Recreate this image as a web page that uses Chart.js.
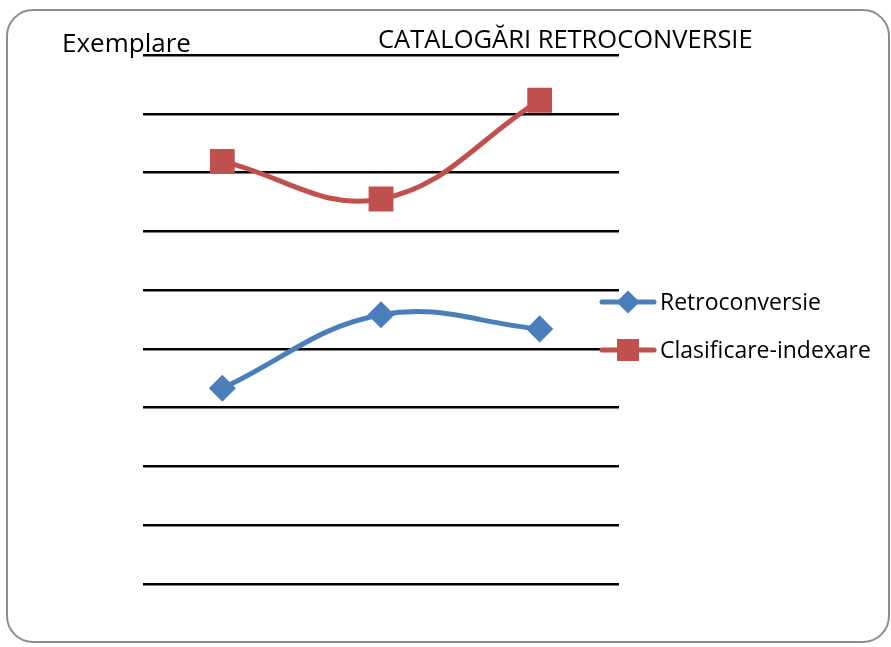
<!DOCTYPE html>
<html>
<head>
<meta charset="utf-8">
<script src="https://cdn.jsdelivr.net/npm/chart.js@4"></script>
<style>
  body { margin: 0; background: #fff; }
  #wrap { width: 891px; height: 647px; position: relative; }
</style>
</head>
<body>
<div id="wrap"><canvas id="chart"></canvas></div>
<script>
const categories = ["I", "II", "III"];
const retroconversie = [3.33, 4.58, 4.34];
const clasificare = [7.19, 6.55, 8.23];
const seriesNames = ["Retroconversie", "Clasificare-indexare"];
const chartTitle = "CATALOGĂRI RETROCONVERSIE";
const axisTitle = "Exemplare";

const FONT = "'Open Sans', sans-serif";

// frame, titles and the line+marker legend
const decor = {
  id: "decor",
  beforeDraw(chart) {
    const ctx = chart.ctx;
    ctx.save();
    ctx.strokeStyle = "#8c8c8c";
    ctx.lineWidth = 2;
    ctx.beginPath();
    ctx.roundRect(7, 10, 882, 632, 26);
    ctx.stroke();
    ctx.restore();
  },
  afterDraw(chart) {
    const ctx = chart.ctx;
    ctx.save();
    ctx.fillStyle = "#000";
    ctx.textBaseline = "alphabetic";
    ctx.textAlign = "left";
    ctx.font = "26px " + FONT;
    ctx.fillText(axisTitle, 62, 52);
    ctx.font = "25.5px " + FONT;
    ctx.fillText(chartTitle, 378, 48);

    const rows = [302, 350];
    chart.data.datasets.forEach(function (ds, i) {
      const y = rows[i];
      ctx.strokeStyle = ds.borderColor;
      ctx.lineWidth = 5;
      ctx.lineCap = "round";
      ctx.beginPath();
      ctx.moveTo(602, y);
      ctx.lineTo(654, y);
      ctx.stroke();
      ctx.fillStyle = ds.pointBackgroundColor;
      ctx.strokeStyle = ds.pointBorderColor;
      Chart.helpers.drawPoint(ctx, {
        pointStyle: ds.pointStyle,
        radius: ds.pointStyle === "rect" ? 12 : 8,
        rotation: 0,
        borderWidth: 1
      }, 628, y);
      ctx.fillStyle = "#000";
      ctx.font = "23px " + FONT;
      ctx.textBaseline = "middle";
      ctx.fillText(ds.label, 660, y + 1);
    });
    ctx.restore();
  }
};

new Chart(document.getElementById("chart"), {
  type: "line",
  data: {
    labels: categories,
    datasets: [
      {
        label: seriesNames[0],
        data: retroconversie,
        borderColor: "#4a7ebb",
        backgroundColor: "#4a7ebb",
        pointBackgroundColor: "#4a7ebb",
        pointBorderColor: "#4a7ebb",
        pointStyle: "rectRot",
        pointRadius: 10,
        borderWidth: 5,
        tension: 0.4
      },
      {
        label: seriesNames[1],
        data: clasificare,
        borderColor: "#c0504d",
        backgroundColor: "#c0504d",
        pointBackgroundColor: "#c0504d",
        pointBorderColor: "#c0504d",
        pointStyle: "rect",
        pointRadius: 14,
        borderWidth: 5,
        tension: 0.4
      }
    ]
  },
  options: {
    responsive: true,
    maintainAspectRatio: false,
    animation: false,
    layout: {
      padding: { left: 143, right: 272, top: 55, bottom: 63 }
    },
    plugins: {
      legend: { display: false },
      tooltip: { enabled: false }
    },
    scales: {
      x: {
        offset: true,
        grid: { display: false, drawTicks: false },
        border: { display: false },
        ticks: { display: false }
      },
      y: {
        min: 0,
        max: 9,
        grid: { color: "#000", lineWidth: 2.4, drawTicks: false },
        border: { display: false },
        ticks: { display: false, stepSize: 1 }
      }
    }
  },
  plugins: [decor]
});
</script>
</body>
</html>
